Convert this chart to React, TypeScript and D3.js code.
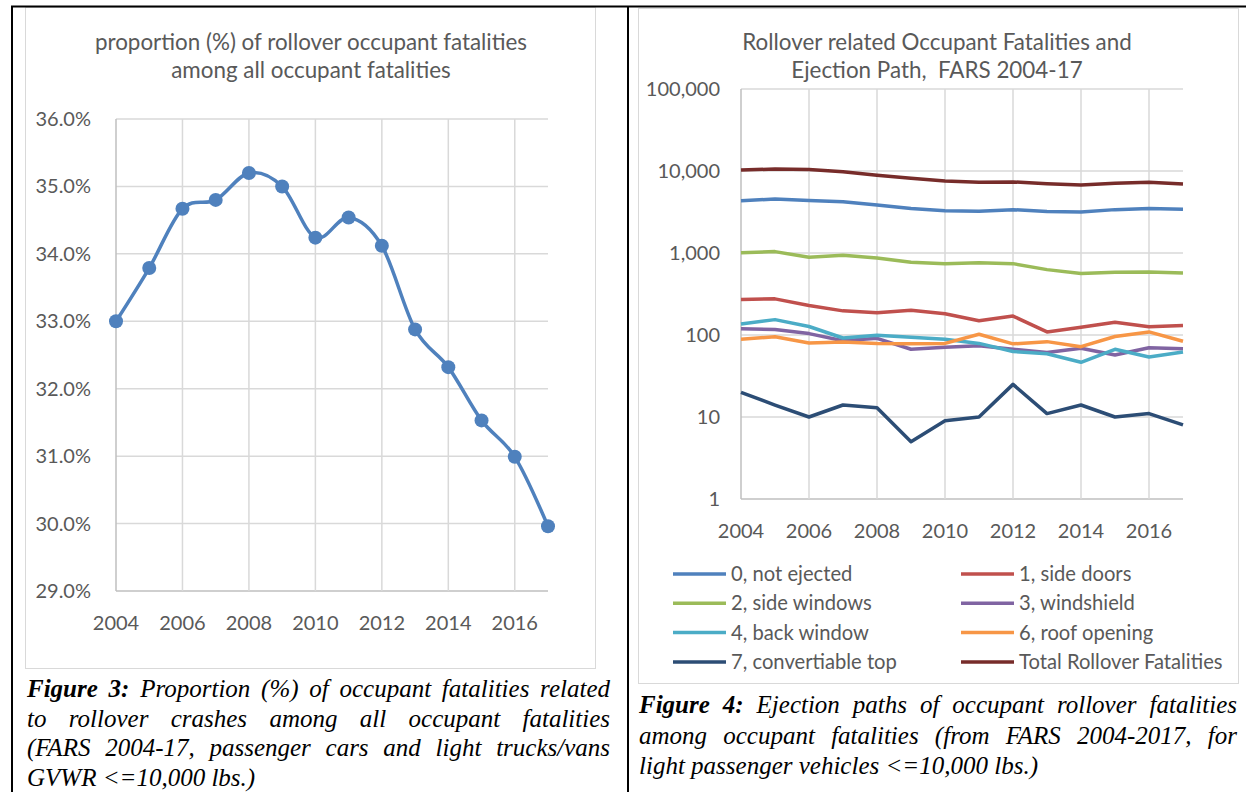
import React from "react";
import * as d3 from "d3";

// ---- Figure 3: share of rollover fatalities ----
const years = [2004, 2005, 2006, 2007, 2008, 2009, 2010, 2011, 2012, 2013, 2014, 2015, 2016, 2017];
const rolloverShare = [33.0, 33.79, 34.67, 34.8, 35.2, 35.0, 34.24, 34.54, 34.12, 32.88, 32.32, 31.53, 30.99, 29.96];
const shareTicks = [29, 30, 31, 32, 33, 34, 35, 36];
const yearTicks = [2004, 2006, 2008, 2010, 2012, 2014, 2016];

// ---- Figure 4: ejection paths (log scale) ----
const notEjected = [4350, 4550, 4380, 4220, 3850, 3480, 3280, 3220, 3380, 3200, 3160, 3380, 3480, 3420];
const sideDoors = [271, 276, 229, 197, 187, 201, 182, 149, 170, 109, 124, 143, 126, 131];
const sideWindows = [1010, 1040, 886, 937, 870, 770, 742, 763, 742, 627, 561, 582, 588, 571];
const windshield = [119, 117, 104, 85, 91, 67, 71, 74, 67, 61, 69, 57, 70, 68];
const backWindow = [136, 154, 127, 92, 99, 94, 89, 79, 63, 59, 46.5, 67, 54, 62];
const roofOpening = [89, 95, 80, 82, 79, 78, 79, 102, 78, 83, 72, 96, 109, 84];
const convertibleTop = [20, 14, 10, 14, 13, 5, 9, 10, 25, 11, 14, 10, 11, 8];
const totalRollover = [10280, 10580, 10400, 9800, 8870, 8150, 7550, 7270, 7350, 7000, 6750, 7070, 7270, 6940];
const countTicks = [1, 10, 100, 1000, 10000, 100000];

const seriesNames = [
  "0, not ejected",
  "1, side doors",
  "2, side windows",
  "3, windshield",
  "4, back window",
  "6, roof opening",
  "7, convertiable top",
  "Total Rollover Fatalities",
];
const seriesValues = [notEjected, sideDoors, sideWindows, windshield, backWindow, roofOpening, convertibleTop, totalRollover];
const seriesColors = ["#4F81BD", "#C0504D", "#9BBB59", "#8064A2", "#4BACC6", "#F79646", "#2C4D75", "#772C2A"];

const CHART_FONT = "Lato, 'Open Sans', sans-serif";
const TEXT = "#595959";
const GRID = "#D9D9D9";
const AXIS = "#BFBFBF";
const TITLE_SIZE = 22.4;
const TICK_SIZE = 20;

// ---- caption typesetting (justified serif text) ----
const CAP_SIZE = 25;
const capFont = (bold: boolean) =>
  `italic ${bold ? "bold " : ""}${CAP_SIZE}px 'Liberation Serif', 'Times New Roman', serif`;

let measureCtx: CanvasRenderingContext2D | null = null;
function measure(text: string, font: string) {
  if (!measureCtx && typeof document !== "undefined") {
    measureCtx = document.createElement("canvas").getContext("2d");
  }
  if (!measureCtx) return text.length * CAP_SIZE * 0.42;
  measureCtx.font = font;
  return measureCtx.measureText(text).width;
}

type Seg = { t: string; b?: boolean };
type Word = { text: string; bold: boolean; x: number };

function layoutLine(segs: Seg[], x0: number, x1: number, justify: boolean): Word[] {
  const words: { text: string; bold: boolean; w: number }[] = [];
  segs.forEach((s) => {
    s.t.split(" ").filter((w) => w.length).forEach((w) => {
      words.push({ text: w, bold: !!s.b, w: measure(w, capFont(!!s.b)) });
    });
  });
  const total = d3.sum(words, (w) => w.w);
  const space = measure(" ", capFont(false));
  const gap = justify && words.length > 1 ? (x1 - x0 - total) / (words.length - 1) : space;
  let x = x0;
  return words.map((w) => {
    const out = { text: w.text, bold: w.bold, x };
    x += w.w + gap;
    return out;
  });
}

function Caption({ lines, x0, x1, y0, lh }: { lines: Seg[][]; x0: number; x1: number; y0: number; lh: number }) {
  return (
    <g>
      {lines.map((segs, i) => {
        const words = layoutLine(segs, x0, x1, i < lines.length - 1);
        return words.map((w, j) => (
          <text
            key={`${i}-${j}`}
            x={w.x}
            y={y0 + i * lh}
            fontFamily="'Liberation Serif', 'Times New Roman', serif"
            fontStyle="italic"
            fontWeight={w.bold ? "bold" : "normal"}
            fontSize={CAP_SIZE}
            fill="#000"
          >
            {w.text}
          </text>
        ));
      })}
    </g>
  );
}

const caption3: Seg[][] = [
  [{ t: "Figure 3:", b: true }, { t: "Proportion (%) of occupant fatalities related" }],
  [{ t: "to rollover crashes among all occupant fatalities" }],
  [{ t: "(FARS 2004-17, passenger cars and light trucks/vans" }],
  [{ t: "GVWR <=10,000 lbs.)" }],
];
const caption4: Seg[][] = [
  [{ t: "Figure 4:", b: true }, { t: "Ejection paths of occupant rollover fatalities" }],
  [{ t: "among occupant fatalities (from FARS 2004-2017, for" }],
  [{ t: "light passenger vehicles <=10,000 lbs.)" }],
];

function ShareChart() {
  const x = d3.scaleLinear().domain([2004, 2017]).range([116, 548]);
  const y = d3.scaleLinear().domain([29, 36]).range([591, 119]);
  const pts = years.map((yr, i) => [x(yr), y(rolloverShare[i])] as [number, number]);
  const line = d3.line().curve(d3.curveCatmullRom.alpha(0))(pts) || "";
  const fmt = d3.format(".1f");
  return (
    <g>
      <rect x={25.5} y={7.5} width={570} height={661} fill="#fff" stroke={GRID} strokeWidth={1} />
      <text x={311} y={50} textAnchor="middle" fontFamily={CHART_FONT} fontSize={TITLE_SIZE} fill={TEXT}>
        proportion (%) of rollover occupant fatalities
      </text>
      <text x={311} y={78} textAnchor="middle" fontFamily={CHART_FONT} fontSize={TITLE_SIZE} fill={TEXT}>
        among all occupant fatalities
      </text>
      {shareTicks.map((t) => (
        <g key={t}>
          <line x1={x(2004)} x2={x(2017)} y1={y(t)} y2={y(t)} stroke={t === 29 ? AXIS : GRID} strokeWidth={1.5} />
          <text x={91} y={y(t)} dy="0.35em" textAnchor="end" fontFamily={CHART_FONT} fontSize={TICK_SIZE} fill={TEXT}>
            {fmt(t)}%
          </text>
        </g>
      ))}
      {yearTicks.map((t) => (
        <g key={t}>
          <line x1={x(t)} x2={x(t)} y1={y(36)} y2={y(29)} stroke={t === 2004 ? AXIS : GRID} strokeWidth={1.5} />
          <text x={x(t)} y={630} textAnchor="middle" fontFamily={CHART_FONT} fontSize={TICK_SIZE} fill={TEXT}>
            {t}
          </text>
        </g>
      ))}
      <path d={line} fill="none" stroke="#4F81BD" strokeWidth={3.5} strokeLinejoin="round" />
      {pts.map((p, i) => (
        <circle key={i} cx={p[0]} cy={p[1]} r={7} fill="#4F81BD" />
      ))}
    </g>
  );
}

function EjectionChart() {
  const x = d3.scaleLinear().domain([2004, 2017]).range([741, 1183]);
  const y = d3.scaleLog().domain([1, 100000]).range([499, 89]);
  const fmt = d3.format(",");
  const line = d3
    .line<number>()
    .x((_, i) => x(years[i]))
    .y((v) => y(v));
  return (
    <g>
      <rect x={638.5} y={8.5} width={600} height={675} fill="#fff" stroke={GRID} strokeWidth={1} />
      <text x={937} y={50} textAnchor="middle" fontFamily={CHART_FONT} fontSize={TITLE_SIZE} fill={TEXT}>
        Rollover related Occupant Fatalities and
      </text>
      <text x={937} y={78} textAnchor="middle" fontFamily={CHART_FONT} fontSize={TITLE_SIZE} fill={TEXT} style={{ whiteSpace: "pre" }}>
        {"Ejection Path,  FARS 2004-17"}
      </text>
      {countTicks.map((t) => (
        <g key={t}>
          <line x1={x(2004)} x2={x(2017)} y1={y(t)} y2={y(t)} stroke={t === 1 ? AXIS : GRID} strokeWidth={1.5} />
          <text x={720} y={y(t)} dy="0.35em" textAnchor="end" fontFamily={CHART_FONT} fontSize={TICK_SIZE} fill={TEXT}>
            {fmt(t)}
          </text>
        </g>
      ))}
      {yearTicks.map((t) => (
        <g key={t}>
          <line x1={x(t)} x2={x(t)} y1={y(100000)} y2={y(1)} stroke={t === 2004 ? AXIS : GRID} strokeWidth={1.5} />
          <text x={x(t)} y={538} textAnchor="middle" fontFamily={CHART_FONT} fontSize={TICK_SIZE} fill={TEXT}>
            {t}
          </text>
        </g>
      ))}
      {seriesValues.map((vals, i) => (
        <path
          key={seriesNames[i]}
          d={line(vals) || ""}
          fill="none"
          stroke={seriesColors[i]}
          strokeWidth={3.5}
          strokeLinejoin="round"
        />
      ))}
      {seriesNames.map((name, i) => {
        const col = i % 2;
        const row = Math.floor(i / 2);
        const lx = col === 0 ? 673 : 961;
        const ly = 574 + row * 29.3;
        return (
          <g key={name}>
            <line x1={lx} x2={lx + 53} y1={ly} y2={ly} stroke={seriesColors[i]} strokeWidth={3.5} />
            <text x={lx + 58} y={ly} dy="0.35em" fontFamily={CHART_FONT} fontSize={20.2} fill={TEXT}>
              {name}
            </text>
          </g>
        );
      })}
    </g>
  );
}

export default function App() {
  return (
    <div style={{ position: "absolute", left: 0, top: 0, width: 1248, height: 792, background: "#fff" }}>
      <svg width={1248} height={792} viewBox="0 0 1248 792" style={{ display: "block" }}>
        <rect width={1248} height={792} fill="#fff" />
        <ShareChart />
        <EjectionChart />
        <Caption lines={caption3} x0={27} x1={610} y0={697} lh={29.5} />
        <Caption lines={caption4} x0={639} x1={1237} y0={713} lh={30.5} />
        {/* table frame */}
        <line x1={11} x2={1246} y1={6.5} y2={6.5} stroke="#000" strokeWidth={2} />
        <line x1={12} x2={12} y1={6} y2={792} stroke="#000" strokeWidth={2} />
        <line x1={628} x2={628} y1={6} y2={792} stroke="#000" strokeWidth={2} />
      </svg>
    </div>
  );
}
